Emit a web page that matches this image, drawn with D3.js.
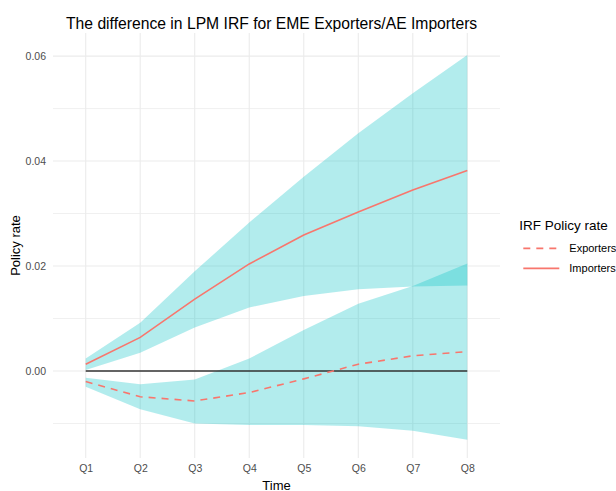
<!DOCTYPE html>
<html>
<head>
<meta charset="utf-8">
<script src="https://cdn.jsdelivr.net/npm/d3@7"></script>
<style>
  html, body { margin: 0; padding: 0; background: #fff; }
  svg { display: block; font-family: "Liberation Sans", Arial, sans-serif; }
</style>
</head>
<body>
<svg id="chart" width="616" height="491"></svg>
<script>
// Horizons of the impulse response
const quarters = ["Q1", "Q2", "Q3", "Q4", "Q5", "Q6", "Q7", "Q8"];

// Exporters: point estimate and confidence band
const exportersIRF   = [-0.0020, -0.0049, -0.0057, -0.0041, -0.0015, 0.0013, 0.0029, 0.0037];
const exportersLower = [-0.0030, -0.0073, -0.0100, -0.0103, -0.0103, -0.0105, -0.0114, -0.0131];
const exportersUpper = [-0.0013, -0.0025, -0.0016, 0.0024, 0.0078, 0.0128, 0.0162, 0.0205];

// Importers: point estimate and confidence band
const importersIRF   = [0.0013, 0.0064, 0.0137, 0.0204, 0.0259, 0.0303, 0.0345, 0.0382];
const importersLower = [0.0002, 0.0035, 0.0083, 0.0121, 0.0143, 0.0156, 0.0161, 0.0163];
const importersUpper = [0.0024, 0.0092, 0.0190, 0.0283, 0.0370, 0.0453, 0.0529, 0.0602];

// Axis breaks
const yMajorTicks = [0, 0.02, 0.04, 0.06];
const yMinorTicks = [-0.01, 0.01, 0.03, 0.05];
const legendLabels = ["Exporters", "Importers"];

const svg = d3.select("#chart");
const panel = { left: 53, right: 500, top: 33, bottom: 458 };

const x = d3.scalePoint().domain(quarters).range([85.7, 467.3]);
const y = d3.scaleLinear().domain([-0.01657, 0.0644]).range([panel.bottom, panel.top]);

// Grid
const grid = svg.append("g");
grid.selectAll("line.minor").data(yMinorTicks).join("line")
  .attr("x1", panel.left).attr("x2", panel.right)
  .attr("y1", d => y(d)).attr("y2", d => y(d))
  .attr("stroke", "#F0F0F0").attr("stroke-width", 1);
grid.selectAll("line.major").data(yMajorTicks).join("line")
  .attr("x1", panel.left).attr("x2", panel.right)
  .attr("y1", d => y(d)).attr("y2", d => y(d))
  .attr("stroke", "#EBEBEB").attr("stroke-width", 1.1);
grid.selectAll("line.vert").data(quarters).join("line")
  .attr("x1", d => x(d)).attr("x2", d => x(d))
  .attr("y1", panel.top).attr("y2", panel.bottom)
  .attr("stroke", "#EBEBEB").attr("stroke-width", 1.1);

// Confidence bands
const bandFill = "#00BFC4";
const area = (lo, hi) => d3.area()
  .x((d, i) => x(quarters[i]))
  .y0((d, i) => y(lo[i]))
  .y1((d, i) => y(hi[i]));

svg.append("path").datum(quarters)
  .attr("d", area(exportersLower, exportersUpper))
  .attr("fill", bandFill).attr("fill-opacity", 0.3);
svg.append("path").datum(quarters)
  .attr("d", area(importersLower, importersUpper))
  .attr("fill", bandFill).attr("fill-opacity", 0.3);

// Zero reference line
svg.append("line")
  .attr("x1", x(quarters[0])).attr("x2", x(quarters[quarters.length - 1]))
  .attr("y1", y(0)).attr("y2", y(0))
  .attr("stroke", "#333333").attr("stroke-width", 1.4);

// IRF lines
const lineColor = "#F8766D";
const line = vals => d3.line()
  .x((d, i) => x(quarters[i]))
  .y((d, i) => y(vals[i]))(quarters);

svg.append("path").attr("d", line(exportersIRF))
  .attr("fill", "none").attr("stroke", lineColor)
  .attr("stroke-width", 1.6).attr("stroke-dasharray", "7,6");
svg.append("path").attr("d", line(importersIRF))
  .attr("fill", "none").attr("stroke", lineColor)
  .attr("stroke-width", 1.6);

// Axes
const xAxis = d3.axisBottom(x).tickSize(0).tickPadding(0);
const gx = svg.append("g").attr("transform", `translate(0,${panel.bottom})`).call(xAxis);
gx.select(".domain").remove();
gx.selectAll("text")
  .attr("y", 14).attr("dy", "0")
  .attr("font-size", "10.5px").attr("fill", "#4D4D4D")
  .attr("font-family", "Liberation Sans, Arial, sans-serif");

const yAxis = d3.axisLeft(y).tickValues(yMajorTicks).tickFormat(d3.format(".2f")).tickSize(0).tickPadding(0);
const gy = svg.append("g").attr("transform", `translate(${panel.left},0)`).call(yAxis);
gy.select(".domain").remove();
gy.selectAll("text")
  .attr("x", -7).attr("dy", "0.35em")
  .attr("font-size", "10.5px").attr("fill", "#4D4D4D")
  .attr("font-family", "Liberation Sans, Arial, sans-serif");

// Axis titles
svg.append("text")
  .attr("x", (panel.left + panel.right) / 2).attr("y", 489.5)
  .attr("text-anchor", "middle").attr("font-size", "13px").attr("fill", "#000")
  .text("Time");
svg.append("text")
  .attr("transform", `translate(20,${(panel.top + panel.bottom) / 2}) rotate(-90)`)
  .attr("text-anchor", "middle").attr("font-size", "13px").attr("fill", "#000")
  .text("Policy rate");

// Title
svg.append("text")
  .attr("x", 66).attr("y", 29)
  .attr("font-size", "15.7px").attr("fill", "#000")
  .text("The difference in LPM IRF for EME Exporters/AE Importers");

// Legend
const legend = svg.append("g");
legend.append("text")
  .attr("x", 519.3).attr("y", 229.5)
  .attr("font-size", "13.5px").attr("fill", "#000")
  .text("IRF Policy rate");
const keys = legend.selectAll("g.key").data(legendLabels).join("g")
  .attr("transform", (d, i) => `translate(0,${248.3 + i * 20})`);
keys.append("line")
  .attr("x1", 523.3).attr("x2", 559.3).attr("y1", 0).attr("y2", 0)
  .attr("stroke", lineColor).attr("stroke-width", 1.8)
  .attr("stroke-dasharray", (d, i) => i === 0 ? "7,6" : null);
keys.append("text")
  .attr("x", 569.3).attr("y", 0).attr("dy", "0.35em")
  .attr("font-size", "11px").attr("fill", "#000")
  .text(d => d);
</script>
</body>
</html>
